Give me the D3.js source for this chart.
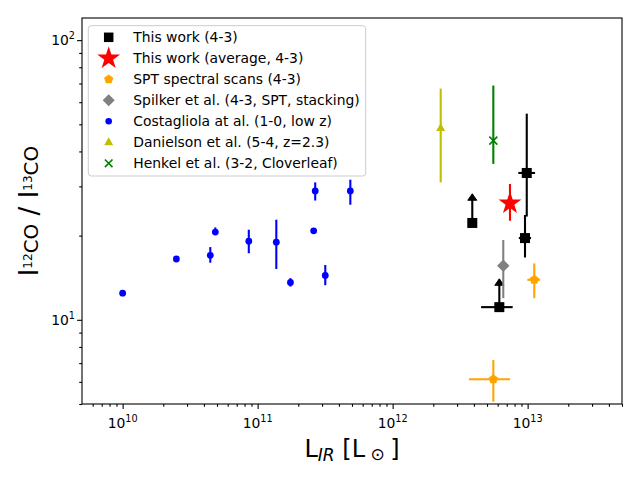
<!DOCTYPE html>
<html><head><meta charset="utf-8">
<script src="https://cdn.jsdelivr.net/npm/d3@7"></script>
<style>body{margin:0;background:#fff} svg{font-family:"DejaVu Sans",sans-serif}</style>
</head><body><svg id="c" width="640" height="480"></svg>
<script>
// ---------------- data ----------------
// Costagliola et al. (1-0, low z)
const costX   = [1.0e10, 2.5e10, 4.46e10, 4.86e10, 8.6e10, 1.375e11, 1.75e11, 2.6e11, 2.67e11, 3.17e11, 4.86e11];
const costY   = [12.45, 16.5, 17.0, 20.6, 19.1, 18.95, 13.6, 20.8, 28.9, 14.4, 28.9];
const costYlo = [12.45, 16.5, 16.0, 20.1, 17.3, 15.2, 13.15, 20.8, 26.7, 13.3, 25.8];
const costYhi = [12.45, 16.5, 18.2, 21.4, 21.0, 22.8, 14.1, 20.8, 31.0, 15.7, 31.7];
// This work (4-3)
const twX    = [3.89e12, 9.85e12, 9.56e12, 6.17e12];
const twY    = [22.2, 33.5, 19.6, 11.1];
const twYlo  = [22.2, 23.4, 16.7, 11.1];
const twYhi  = [28.0, 54.6, 23.7, 13.9];
const twXlo  = [3.89e12, 8.53e12, 8.6e12, 4.52e12];
const twXhi  = [3.89e12, 1.135e13, 1.06e13, 7.75e12];
const twLowerLimit = [true, false, false, true];
// This work (average, 4-3)
const avgX = [7.4e12], avgY = [26.1], avgYlo = [22.6], avgYhi = [30.6];
// SPT spectral scans (4-3)
const sptX   = [1.12e13, 5.57e12];
const sptY   = [13.9, 6.13];
const sptYlo = [11.95, 5.1];
const sptYhi = [15.9, 7.19];
const sptXlo = [9.95e12, 3.68e12];
const sptXhi = [1.236e13, 7.4e12];
// Spilker et al. (4-3, SPT, stacking)
const spkX = [6.6e12], spkY = [15.6], spkYlo = [11.95], spkYhi = [19.3];
// Danielson et al. (5-4, z=2.3)
const danX = [2.27e12], danY = [48.5], danYlo = [31.0], danYhi = [67.1];
// Henkel et al. (3-2, Cloverleaf)
const henX = [5.57e12], henY = [43.7], henYlo = [36.1], henYhi = [68.8];

const xMajor = [1e10, 1e11, 1e12, 1e13];
const xExp   = ["10", "11", "12", "13"];
const yMajor = [10, 100];
const yExp   = ["1", "2"];
const legendLabels = ["This work (4-3)", "This work (average, 4-3)", "SPT spectral scans (4-3)",
  "Spilker et al. (4-3, SPT, stacking)", "Costagliola at al. (1-0, low z)",
  "Danielson et al. (5-4, z=2.3)", "Henkel et al. (3-2, Cloverleaf)"];

// ---------------- layout ----------------
const L = 82, R = 622, T = 18, B = 404;
const svg = d3.select("#c");
const x = d3.scaleLog().domain([5e9, 5e13]).range([L, R]);
const y = d3.scaleLog().domain([5, 120]).range([B, T]);

const col = {black:"#000000", red:"#ff0000", orange:"#ffa500", grey:"#808080", blue:"#0000ff", yel:"#bfbf00", green:"#008000"};

// minor tick values
const xMinor = [], yMinor = [];
for (let e = 9; e <= 13; e++) for (let m = 2; m <= 9; m++) { const v = m * Math.pow(10, e); if (v > 5e9 && v <= 5e13) xMinor.push(v); }
for (let e = 0; e <= 2; e++) for (let m = 2; m <= 9; m++) { const v = m * Math.pow(10, e); if (v >= 5 && v <= 120) yMinor.push(v); }

svg.append("defs").append("clipPath").attr("id", "clip").append("rect")
  .attr("x", L).attr("y", T).attr("width", R - L).attr("height", B - T);

// axes
const ax = svg.append("g").attr("transform", `translate(0,${B})`)
  .call(d3.axisBottom(x).tickValues(xMajor).tickSizeInner(4.9).tickSizeOuter(0).tickFormat(""));
const axm = svg.append("g").attr("transform", `translate(0,${B})`)
  .call(d3.axisBottom(x).tickValues(xMinor).tickSizeInner(2.8).tickSizeOuter(0).tickFormat(""));
const ay = svg.append("g").attr("transform", `translate(${L},0)`)
  .call(d3.axisLeft(y).tickValues(yMajor).tickSizeInner(4.9).tickSizeOuter(0).tickFormat(""));
const aym = svg.append("g").attr("transform", `translate(${L},0)`)
  .call(d3.axisLeft(y).tickValues(yMinor).tickSizeInner(2.8).tickSizeOuter(0).tickFormat(""));
[ax, axm, ay, aym].forEach(g => { g.select(".domain").remove(); g.selectAll("line").attr("stroke", "#000").attr("stroke-width", 1.1); });

// tick labels
xMajor.forEach((v, i) => {
  const t = svg.append("text").attr("x", x(v)).attr("y", 428).attr("text-anchor", "middle").attr("font-size", 13.9).attr("fill", "#000");
  t.append("tspan").text("10");
  t.append("tspan").attr("font-size", 9.7).attr("dy", -6).text(xExp[i]);
});
yMajor.forEach((v, i) => {
  const t = svg.append("text").attr("x", 75).attr("y", y(v) + 5).attr("text-anchor", "end").attr("font-size", 13.9).attr("fill", "#000");
  t.append("tspan").text("10");
  t.append("tspan").attr("font-size", 9.7).attr("dy", -6).text(yExp[i]);
});

// axis labels
const xl = svg.append("text").attr("x", (L + R) / 2).attr("y", 457).attr("text-anchor", "middle").attr("font-size", 24).attr("fill", "#000");
xl.append("tspan").text("L");
xl.append("tspan").attr("font-size", 17).attr("font-style", "italic").attr("dy", 4).text("IR");
xl.append("tspan").attr("dy", -4).text(" [L");
xl.append("tspan").attr("font-size", 17).attr("dy", 3).text(" \u2299 ");
xl.append("tspan").attr("dy", -3).text("]");

const yl = svg.append("text").attr("transform", `translate(38,${(T + B) / 2}) rotate(-90)`).attr("text-anchor", "middle").attr("font-size", 26).attr("fill", "#000");
function ylPart(num) {
  yl.append("tspan").text("I");
  yl.append("tspan").attr("font-size", 12).attr("dy", -6).text(num);
  yl.append("tspan").attr("font-size", 20).attr("dy", 6).text("CO");
}
ylPart("12");
yl.append("tspan").text(" / ");
ylPart("13");

// ---------------- marks ----------------
const plot = svg.append("g").attr("clip-path", "url(#clip)");

function vbar(g, xs, lo, hi, color) {
  g.selectAll(null).data(xs.map((v, i) => i)).enter().filter(i => lo[i] !== hi[i]).append("line")
    .attr("x1", i => x(xs[i])).attr("x2", i => x(xs[i])).attr("y1", i => y(lo[i])).attr("y2", i => y(hi[i]))
    .attr("stroke", color).attr("stroke-width", 2.1);
}
function hbar(g, ys, lo, hi, color) {
  g.selectAll(null).data(ys.map((v, i) => i)).enter().filter(i => lo[i] !== hi[i]).append("line")
    .attr("y1", i => y(ys[i])).attr("y2", i => y(ys[i])).attr("x1", i => x(lo[i])).attr("x2", i => x(hi[i]))
    .attr("stroke", color).attr("stroke-width", 2.1);
}
function starPath(Rr) {
  const pts = [];
  for (let i = 0; i < 10; i++) { const a = -Math.PI / 2 + i * Math.PI / 5; const r = i % 2 ? Rr * 0.382 : Rr; pts.push([r * Math.cos(a), r * Math.sin(a)]); }
  return "M" + pts.map(p => p.join(",")).join("L") + "Z";
}
function polyPath(n, r) {
  const pts = [];
  for (let i = 0; i < n; i++) { const a = -Math.PI / 2 + i * 2 * Math.PI / n; pts.push([r * Math.cos(a), r * Math.sin(a)]); }
  return "M" + pts.map(p => p.join(",")).join("L") + "Z";
}
const marker = {
  square: (g, s) => g.append("rect").attr("x", -s / 2).attr("y", -s / 2).attr("width", s).attr("height", s),
  star: (g, s) => g.append("path").attr("d", starPath(s)),
  pent: (g, s) => g.append("path").attr("d", polyPath(5, s)),
  diamond: (g, s) => g.append("path").attr("d", `M0,${-s}L${s},0L0,${s}L${-s},0Z`),
  dot: (g, s) => g.append("circle").attr("r", s),
  tri: (g, s) => g.append("path").attr("d", `M0,${-s}L${s * 0.9},${s * 0.6}L${-s * 0.9},${s * 0.6}Z`),
  cross: (g, s) => g.append("path").attr("d", `M${-s},${-s}L${s},${s}M${-s},${s}L${s},${-s}`)
};
function points(g, xs, ys, type, size, color) {
  xs.forEach((v, i) => {
    const m = g.append("g").attr("transform", `translate(${x(v)},${y(ys[i])})`);
    const el = marker[type](m, size);
    if (type === "cross") el.attr("fill", "none").attr("stroke", color).attr("stroke-width", 1.6);
    else el.attr("fill", color);
  });
}

// This work (4-3)
const gTW = plot.append("g");
vbar(gTW, twX, twYlo, twYhi, col.black);
hbar(gTW, twY, twXlo, twXhi, col.black);
twX.forEach((v, i) => {
  if (twLowerLimit[i]) {
    gTW.append("path").attr("transform", `translate(${x(v)},${y(twYhi[i])})`)
      .attr("d", "M0,-1L-4.5,5.5L4.5,5.5Z").attr("fill", col.black).attr("stroke", col.black).attr("stroke-width", 1);
  }
});
points(gTW, twX, twY, "square", 10, col.black);

// Average
const gAvg = plot.append("g");
vbar(gAvg, avgX, avgYlo, avgYhi, col.red);
points(gAvg, avgX, avgY, "star", 12, col.red);

// SPT spectral scans
const gSpt = plot.append("g");
vbar(gSpt, sptX, sptYlo, sptYhi, col.orange);
hbar(gSpt, sptY, sptXlo, sptXhi, col.orange);
points(gSpt, sptX, sptY, "pent", 5, col.orange);

// Spilker
const gSpk = plot.append("g");
vbar(gSpk, spkX, spkYlo, spkYhi, col.grey);
points(gSpk, spkX, spkY, "diamond", 6.2, col.grey);

// Costagliola
const gCost = plot.append("g");
vbar(gCost, costX, costYlo, costYhi, col.blue);
points(gCost, costX, costY, "dot", 3.4, col.blue);

// Danielson
const gDan = plot.append("g");
vbar(gDan, danX, danYlo, danYhi, col.yel);
points(gDan, danX, danY, "tri", 5, col.yel);

// Henkel
const gHen = plot.append("g");
vbar(gHen, henX, henYlo, henYhi, col.green);
points(gHen, henX, henY, "cross", 4, col.green);

// frame
svg.append("rect").attr("x", L).attr("y", T).attr("width", R - L).attr("height", B - T)
  .attr("fill", "none").attr("stroke", "#000").attr("stroke-width", 1.1);

// ---------------- legend ----------------
const lg = svg.append("g");
lg.append("rect").attr("x", 88.3).attr("y", 25.7).attr("width", 277.4).attr("height", 150.3).attr("rx", 3)
  .attr("fill", "#fff").attr("fill-opacity", 0.8).attr("stroke", "#cccccc").attr("stroke-width", 1);
const legSpec = [
  ["square", 9.5, col.black], ["star", 12, col.red], ["pent", 4.8, col.orange], ["diamond", 6, col.grey],
  ["dot", 3.3, col.blue], ["tri", 5, col.yel], ["cross", 3.8, col.green]
];
legendLabels.forEach((lab, i) => {
  const cy = 37.3 + i * 21;
  const m = lg.append("g").attr("transform", `translate(108.7,${cy})`);
  const [type, s, c] = legSpec[i];
  const el = marker[type](m, s);
  if (type === "cross") el.attr("fill", "none").attr("stroke", c).attr("stroke-width", 1.6);
  else el.attr("fill", c);
  lg.append("text").attr("x", 133.3).attr("y", cy + 5).attr("font-size", 13.9).attr("fill", "#000").text(lab);
});
</script>
</body></html>
